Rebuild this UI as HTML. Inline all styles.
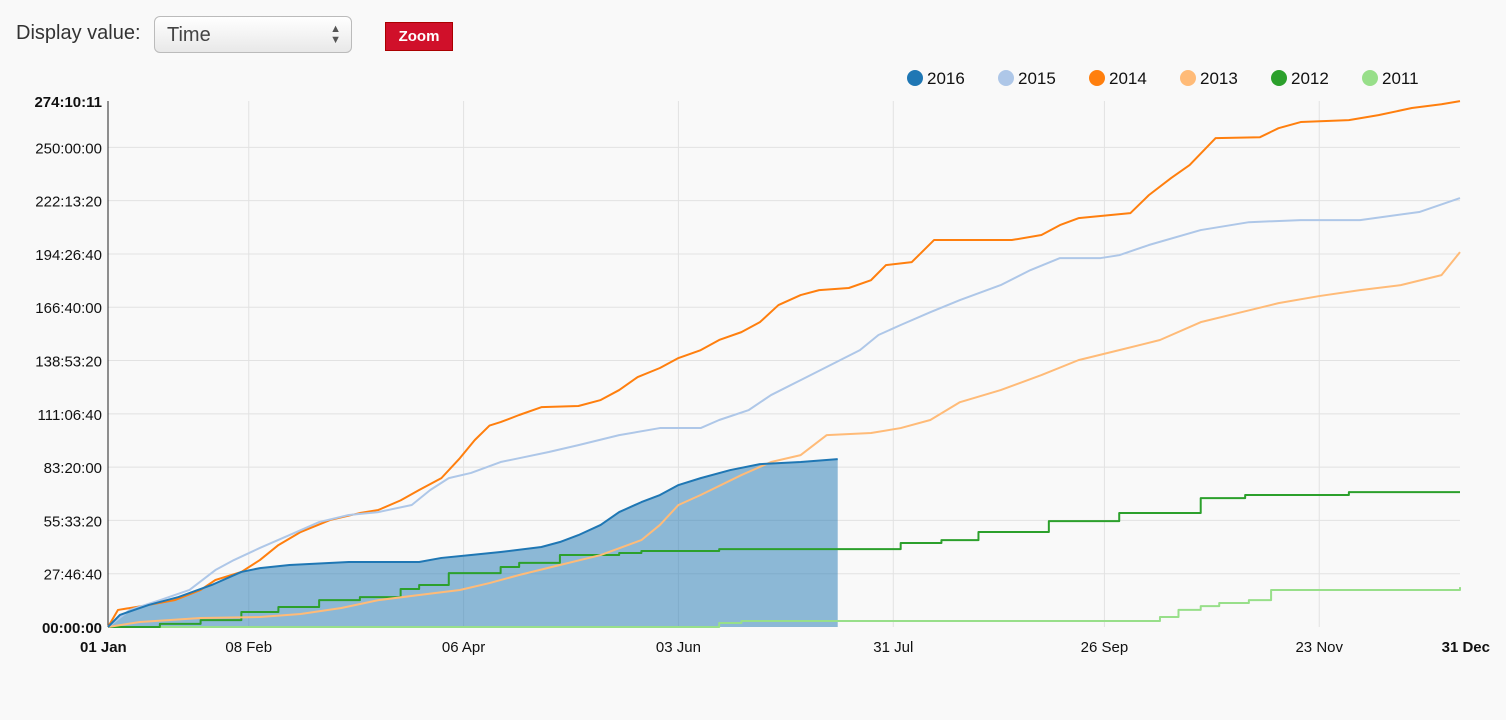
<!DOCTYPE html>
<html><head><meta charset="utf-8"><style>
body{margin:0;background:#f9f9f9;font-family:"Liberation Sans",sans-serif;width:1506px;height:720px;overflow:hidden;position:relative}
.lbl{position:absolute;left:16px;top:22px;font-size:20px;color:#333}
.sel{position:absolute;left:154px;top:16px;width:198px;height:37px;border:1px solid #bbb;border-radius:6px;background:linear-gradient(#fff,#e8e8e8);box-sizing:border-box;font-size:20px;color:#444;padding:7px 12px}
.sel span{position:absolute;right:10px;top:7px;font-size:11px;line-height:11px;color:#555}
.zoom{position:absolute;left:385px;top:22px;width:66px;height:27px;background:#d0102a;color:#fff;font-size:15px;font-weight:bold;text-align:center;line-height:27px;border:1px solid #a00}
svg{position:absolute;left:0;top:0}
</style></head><body>
<div class="lbl">Display value:</div>
<div class="sel">Time<span>▲<br>▼</span></div>
<div class="zoom">Zoom</div>
<svg id="chart" width="1506" height="720"></svg>
<script>
const years=["2016","2015","2014","2013","2012","2011"];
const colors=["#1f77b4","#aec7e8","#ff7f0e","#ffbb78","#2ca02c","#98df8a"];
const xTickDays=[0,38,96,154,212,269,327,365];
const xTickLabels=["01 Jan","08 Feb","06 Apr","03 Jun","31 Jul","26 Sep","23 Nov","31 Dec"];
const yTickSecs=[0,100000,200000,300000,400000,500000,600000,700000,800000,900000,987011];
const yTickLabels=["00:00:00","27:46:40","55:33:20","83:20:00","111:06:40","138:53:20","166:40:00","194:26:40","222:13:20","250:00:00","274:10:11"];
const d2016=[0,3.2,11,19,28,36,41,49,65,84,90,98,106,117,122,127,133,138,144,149,154,160,168,176,187,197];
const h2016=[0,6.3,11.5,15.6,21.9,28.7,30.7,32.3,33.9,33.9,36,37.5,39.1,41.7,44.3,47.9,53.2,59.9,65.1,68.8,74,77.6,81.8,84.9,86,87.5];
const d2015=[0,5.9,14,22,29,34,41,49,57,65,73,82,87,92,98,106,111,119,127,138,149,160,165,173,179,187,195,203,208,214,222,230,241,249,257,268,273,281,295,308,322,338,354,365];
const h2015=[0,8.9,14,19.3,29.7,34.9,41.2,47.9,54.7,58.4,59.9,63.6,71.4,77.6,80.3,86,88,91.2,94.8,100,103.7,103.7,107.9,113.1,120.9,128.7,136.5,144.3,152.2,157.4,164.1,170.4,178.2,186,192.3,192.3,193.8,199.1,206.9,211,212.1,212.1,216.3,223.6];
const d2014=[0,2.7,11,18,25,29,36,41,46,52,60,68,73,79,84,90,95,99,103,106,111,117,127,133,138,143,149,154,160,165,171,176,181,187,192,200,206,210,217,223,244,252,257,262,276,281,287,292,299,311,316,322,335,343,352,360,365];
const h2014=[0,8.9,11.5,14,19.3,24.5,28.7,34.9,42.7,49.5,55.8,59.4,61,66,71.4,77.6,88,97.4,105,106.8,110.5,114.6,115.2,118.3,123.5,130.3,135,140.2,144.3,149.6,153.7,158.9,167.8,173,175.6,176.7,180.8,188.6,190.2,201.7,201.7,204.3,209.5,213.1,215.7,225.1,234,240.8,254.8,255.3,260,263.2,264.2,266.8,270.5,272.5,274.1];
const d2013=[0,8.6,25,41,52,63,73,84,95,103,111,122,133,144,149,154,160,171,179,187,194,206,214,222,230,241,252,262,273,284,295,306,316,327,338,349,360,365];
const h2013=[0,2.6,4.7,5.2,6.8,9.9,14,16.7,19.3,22.9,27.1,32.3,37.5,45.3,53.2,63.6,68.8,79.2,86,89.6,100,101.1,103.7,107.9,117.2,123.5,131.3,139.1,144.3,149.6,158.9,164.1,168.8,172.5,175.6,178.2,183.4,195.4];
const d2012=[0,14,25,36,46,57,68,79,84,92,106,111,122,138,144,165,214,225,235,254,273,295,307,335,349,365];
const h2012=[0,1.6,3.6,7.8,10.4,14,15.6,19.8,21.9,28.1,31.3,33.4,37.5,38.6,39.6,40.6,43.8,45.3,49.5,55.2,59.4,67.2,68.8,70.3,70.3,70.3];
const d2011=[0,160,165,171,281,284,289,295,300,308,314,365];
const h2011=[0,0,2.1,3.1,3.1,5.2,8.9,10.9,12.5,14,19.3,20.8];
const series=[[d2016,h2016],[d2015,h2015],[d2014,h2014],[d2013,h2013],[d2012,h2012],[d2011,h2011]];
const stepped=[false,false,false,false,true,true];

const X0=108,X1=1460,Y0=627,Y1=101,YMAX=987011;
const xs=d=>X0+(X1-X0)*d/365;
const ys=s=>Y0-(Y0-Y1)*s/YMAX;
const yh=h=>ys(h*3600);
const svg=document.getElementById('chart');
const NS="http://www.w3.org/2000/svg";
function mk(t,a,p){const e=document.createElementNS(NS,t);for(const k in a)e.setAttribute(k,a[k]);(p||svg).appendChild(e);return e;}
yTickSecs.forEach((s,i)=>{
  const y=ys(s);
  if(i>0&&i<yTickSecs.length-1){const g=mk('line',{x1:X0,x2:X1,y1:y,y2:y,stroke:'#e2e2e2'});
  
  }
  const t=mk('text',{x:X0-6,y:y+6,'text-anchor':'end','font-size':15,fill:'#111','font-weight':(i==0||i==yTickSecs.length-1)?'bold':'normal'});
  t.textContent=yTickLabels[i];
  
  
});
xTickDays.forEach((d,i)=>{
  const x=xs(d);
  if(i>0&&i<xTickDays.length-1){const g=mk('line',{x1:x,x2:x,y1:Y1,y2:Y0,stroke:'#e2e2e2'});
  
  }
  const anchor=i==0?'start':(i==xTickDays.length-1?'end':'middle');
  const t=mk('text',{x:i==0?x-28:(i==xTickDays.length-1?x+30:x),y:652,'text-anchor':anchor,'font-size':15,fill:'#111','font-weight':(i==0||i==xTickDays.length-1)?'bold':'normal'});
  t.textContent=xTickLabels[i];
  
  
});
const ax=mk('line',{x1:X0,x2:X0,y1:Y1,y2:Y0,stroke:'#222'});


function path(d,h,step){let p='M'+xs(d[0])+','+yh(h[0]);for(let i=1;i<d.length;i++){p+=step?('H'+xs(d[i])+'V'+yh(h[i])):('L'+xs(d[i])+','+yh(h[i]));}return p;}
const ad=series[0][0],ah=series[0][1];
const area=mk('path',{d:path(ad,ah,false)+'V'+Y0+'H'+xs(ad[0])+'Z',fill:'#1f77b4','fill-opacity':0.5});


for(let k=series.length-1;k>=0;k--){
  const l=mk('path',{d:path(series[k][0],series[k][1],stepped[k]),fill:'none',stroke:colors[k],'stroke-width':2,'stroke-linejoin':'round'});
  
  
}
const lx=[915,1006,1097,1188,1279,1370];
years.forEach((y,i)=>{
  const c=mk('circle',{cx:lx[i],cy:78,r:8,fill:colors[i]});
  
  
  const t=mk('text',{x:lx[i]+12,y:84,'font-size':17,fill:'#111'});
  t.textContent=y;
  
  
});
</script>
</body></html>
